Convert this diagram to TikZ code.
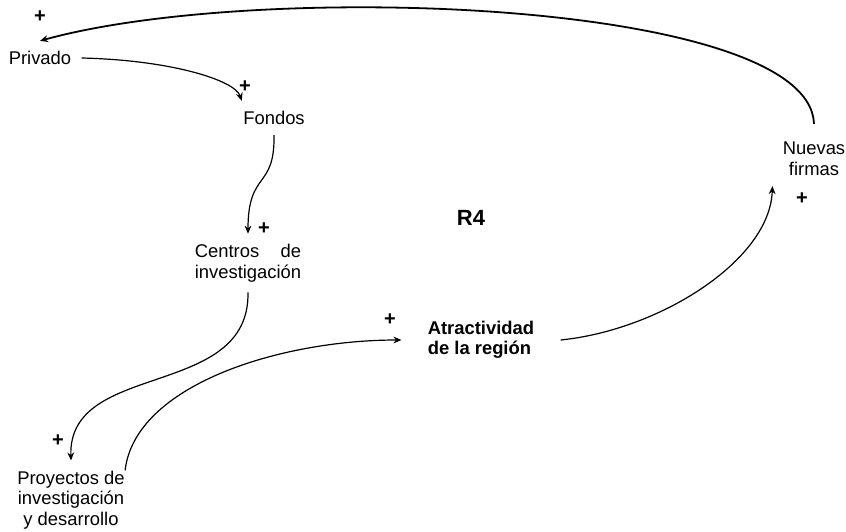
\documentclass[tikz,border=0pt]{standalone}
\usepackage{fontspec}
\setmainfont{Liberation Sans}
\usetikzlibrary{arrows.meta}
\newlength\invwd
\begin{document}
\begin{tikzpicture}[x=0.5pt, y=-0.5pt, >={Stealth[length=4pt,width=3.4pt]},
 font=\fontsize{9.2}{10.3}\selectfont,
 var/.style={inner sep=5pt},
 sign/.style={inner sep=0pt, font=\fontsize{10}{12}\selectfont\bfseries},
 link/.style={->, line width=0.6pt}]
\useasboundingbox (0,0) rectangle (846,531);
\node[var] (priv) at (40,58) {Privado};
\node[var] (fond) at (274,118) {Fondos};
\node[var, align=center] (cent) at (248,263)
 {\settowidth{\invwd}{investigación}\makebox[\invwd][s]{Centros de}\\investigación};
\node[var, align=center] (proy) at (71,500)
 {Proyectos de\\investigación\\y desarrollo};
\node[var, inner xsep=13pt, align=left, font=\fontsize{9.2}{10}\selectfont\bfseries]
 (atr) at (481,340) {Atractividad\\de la región};
\node[var, align=center] (nf) at (814,159) {Nuevas\\firmas};
\node[font=\fontsize{11}{12}\selectfont\bfseries] (loop) at (471,218) {R4};
\foreach \name/\x/\y in {sp1/40/17, sp2/245/87, sp3/264/229,
 sp4/58/441, sp5/390/320, sp6/802/199}
\node[sign] (\name) at (\x,\y) {+};
\draw[link] (priv.east) .. controls (170,60) and (235,80) .. (fond.152);
\draw[link] (fond.south) .. controls (275,190) and (248,170) .. (cent.north);
\draw[link] (cent.south) .. controls (250,400) and (68,360) .. (proy.north);
\draw[link] ([xshift=-5pt,yshift=-5pt]proy.north east) .. controls (135,385)
 and (280,340) .. (atr.west);
\draw[link] (atr.east) .. controls (660,330) and (770,260) .. (nf.south west);
\draw[link, line width=0.9pt] ([yshift=4pt]nf.north) .. controls (810,0)
 and (260,-20) .. (priv.north);
\end{tikzpicture}
\end{document}
